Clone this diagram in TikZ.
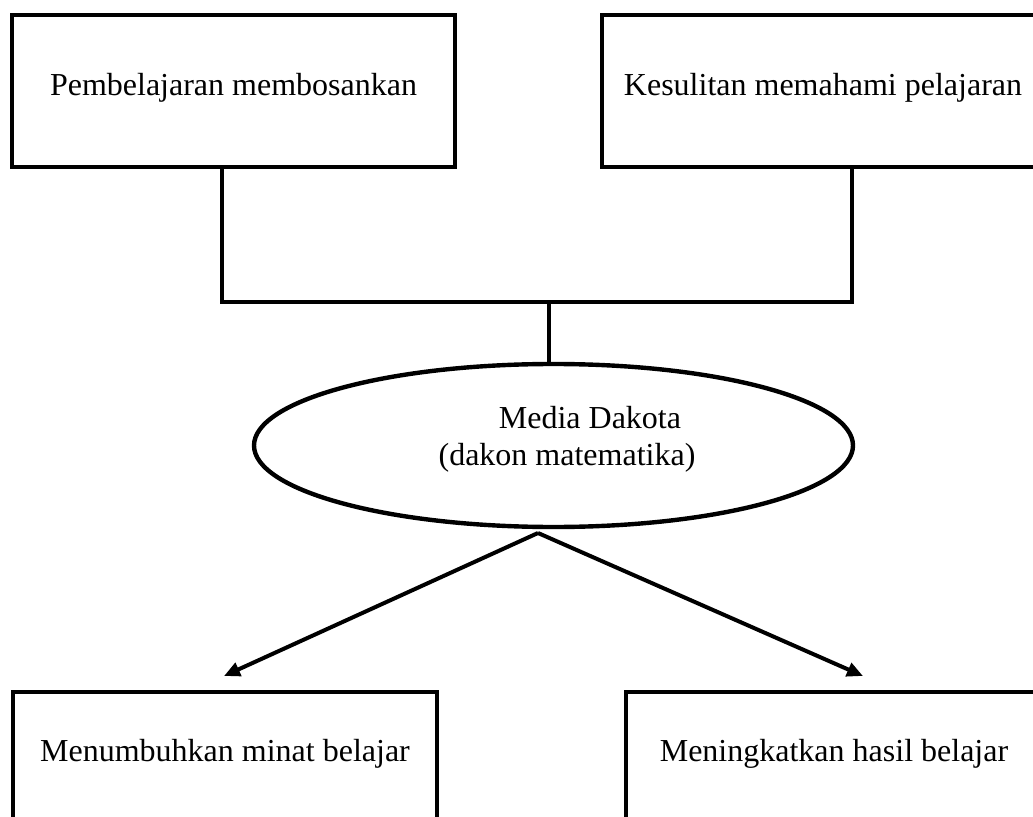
\documentclass[tikz,border=0pt]{standalone}
\usepackage{fontspec}
\setmainfont{Liberation Serif}
\usetikzlibrary{shapes.geometric,arrows.meta}
\begin{document}
\begin{tikzpicture}[x=0.75pt,y=-0.75pt,
  box/.style={draw,line width=3.3pt,inner sep=0pt,font=\fontsize{24}{29}\selectfont,text height=0.69em,text depth=0pt},
  oval/.style={draw,ellipse,line width=3.3pt,inner sep=0pt},
  label/.style={font=\fontsize{24}{29}\selectfont,inner sep=0pt,anchor=base},
  conn/.style={line width=2.7pt},
  arr/.style={line width=3pt,-{Triangle[length=12pt,width=10.5pt]}}]
\clip (0,0) rectangle (1033,817);
\node[box,minimum width=332.25pt,minimum height=114pt] (tl) at (233.5,91) {Pembelajaran membosankan};
\node[box,minimum width=331.5pt,minimum height=114pt] (tr) at (823,91) {Kesulitan memahami pelajaran};
\node[box,minimum width=318pt,minimum height=97.5pt] (bl) at (225,757) {Menumbuhkan minat belajar};
\node[box,minimum width=312pt,minimum height=97.5pt] (br) at (834,757) {Meningkatkan hasil belajar};
\node[oval,minimum width=449.25pt,minimum height=122.25pt] (el) at (553.5,445.5) {};
\node[label] (t1) at (590,428) {Media Dakota};
\node[label] (t2) at (567,465) {(dakon matematika)};
\coordinate (ja) at (222,302);
\coordinate (jb) at (852,302);
\coordinate (jc) at (549,302);
\coordinate (ap) at (538,533);
\coordinate (la) at (224,676);
\coordinate (ra) at (863,676);
\draw[conn] (tl.south -| ja) -- (ja) -- (jb) -- (tr.south -| jb);
\draw[conn] (jc) -- (el.north -| jc);
\draw[arr] (ap) -- (la);
\draw[arr] (ap) -- (ra);
\end{tikzpicture}
\end{document}
